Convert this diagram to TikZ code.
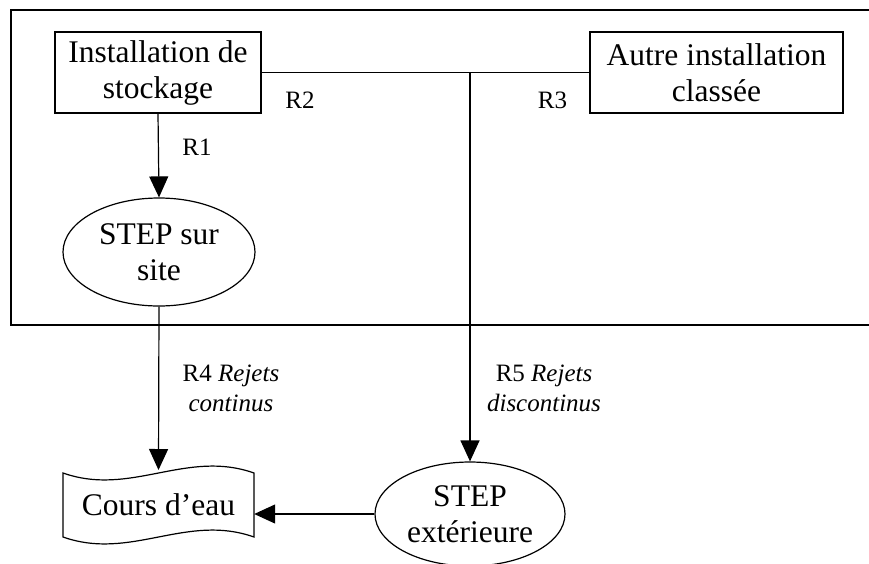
\documentclass[tikz,border=0pt]{standalone}
\usepackage{fontspec}
\setmainfont{Liberation Serif}
\usetikzlibrary{shapes.geometric,arrows.meta}
\tikzset{
  nodefont/.style={font=\fontsize{31.5}{36}\selectfont, align=center},
  lblfont/.style={font=\fontsize{25}{30}\selectfont, align=center, inner sep=0pt},
  boxnode/.style={nodefont, draw, line width=1.2pt, rectangle, minimum height=81pt, inner sep=0pt},
  ellnode/.style={nodefont, draw, line width=1.2pt, ellipse, inner sep=0pt},
  conn/.style={line width=1.2pt},
  arr/.style={line width=1.2pt, -{Triangle[length=21pt,width=19pt]}},
  frameline/.style={line width=2pt}
}
\begin{document}
\begin{tikzpicture}[x=1pt,y=-1pt]
\useasboundingbox (0,0) rectangle (869,563);
% frame (open on the right)
\draw[frameline] (869,10) -- (11,10) -- (11,325) -- (869,325);
% nodes
\node[boxnode, minimum width=206pt] (inst) at (158,72.5) {Installation de\\stockage};
\node[boxnode, minimum width=253pt] (autre) at (716.5,72.5) {Autre installation\\classée};
\node[ellnode, minimum width=192pt, minimum height=108pt] (stepsite) at (159,252) {STEP sur\\site};
\node[ellnode, minimum width=190pt, minimum height=104pt] (stepext) at (470,514) {STEP\\extérieure};
\node[nodefont, minimum width=191pt, minimum height=64pt, inner sep=0pt] (cours) at (158.5,505) {Cours d’eau};
% wavy outline of Cours d'eau
\draw[line width=1.2pt] (63,473) .. controls (131,497) and (186,449) .. (254,473)
  -- (254,537) .. controls (186,513) and (131,561) .. (63,537) -- cycle;
% junction
\coordinate (j) at (stepext.north |- inst.east);
\coordinate (ctop) at (158.5,470);
% connectors
\draw[conn] (inst.east) -- (autre.west);
\draw[arr] (j) -- (stepext.north);
\draw[arr] (inst.south) -- (stepsite.north);
\draw[arr] (stepsite.south) -- (ctop);
\draw[arr] (stepext.west) -- (stepext.west -| cours.east);
% labels
\node[lblfont] (r1) at (197,147) {R1};
\node[lblfont] (r2) at (300,100) {R2};
\node[lblfont] (r3) at (552.5,100) {R3};
\node[lblfont] (r4) at (231,388) {R4 \textit{Rejets}\\\textit{continus}};
\node[lblfont] (r5) at (544,388) {R5 \textit{Rejets}\\\textit{discontinus}};
\end{tikzpicture}
\end{document}
